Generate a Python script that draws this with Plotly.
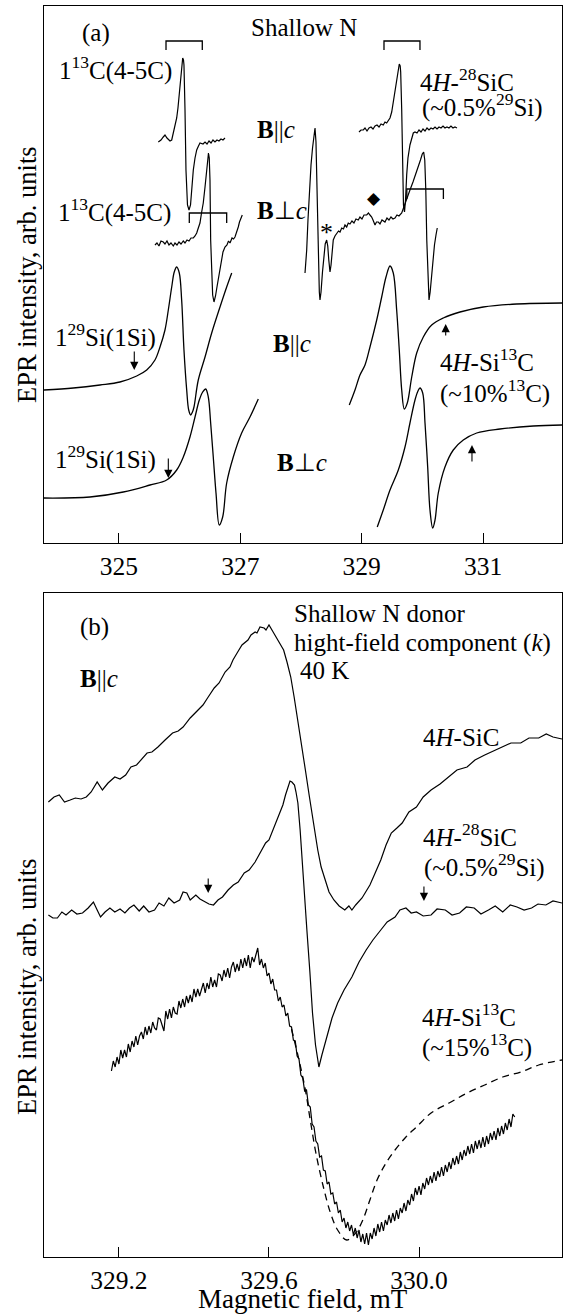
import plotly.graph_objects as go

W, H = 563, 1315
FONT = "Liberation Serif, Times New Roman, serif"

# ---------------- Panel (a): field in mT, EPR intensity in arb. units ----------------
# 4H-28SiC, B||c, low-field line with 13C(4-5C) satellites
a1_field = [325.648,325.692,325.730,325.758,325.791,325.813,325.841,325.869,325.895,325.923,
            325.951,325.972,325.994,326.011,326.027,326.050,326.063,326.071,326.088,326.104,
            326.129,326.154,326.179,326.203,326.225,326.253,326.281,326.310,326.335,326.385,
            326.418,326.451,326.484,326.517,326.549,326.582,326.615,326.648,326.681,326.714,326.747]
a1_int = [401,403,406,408,405,404,402,403,410,416,
          425,435,448,459,471,485,483,478,433,373,
          338,333,338,358,373,385,393,397,400,399,
          401,399,402,400,403,401,403,402,404,403,405]

# 4H-28SiC, B_|_c, low-field line
a2_field = [325.593,325.626,325.659,325.692,325.730,325.758,325.791,325.824,325.857,325.895,
            325.923,325.956,325.989,326.022,326.060,326.088,326.121,326.154,326.187,326.225,
            326.253,326.281,326.302,326.335,326.360,326.389,326.418,326.446,326.462,326.475,
            326.488,326.500,326.511,326.525,326.544,326.566,326.591,326.615,326.637,326.665,
            326.693,326.714,326.747,326.780,326.805,326.830,326.863,326.888,326.912,326.937,
            326.966,326.986,327.002,327.032]
a2_int = [298,300,297,302,301,299,302,298,300,297,
          300,298,301,299,302,300,303,302,305,305,
          307,310,314,320,330,340,356,375,385,390,
          385,363,303,273,248,241,247,256,263,273,
          283,291,296,298,302,300,305,304,306,310,
          316,321,324,328]

# 4H-28SiC, B||c, high-field line
a3_field = [328.956,328.989,329.027,329.055,329.088,329.121,329.154,329.187,329.220,329.253,
            329.286,329.319,329.356,329.384,329.412,329.434,329.467,329.495,329.521,329.549,
            329.577,329.599,329.620,329.635,329.643,329.660,329.676,329.689,329.706,329.723,
            329.742,329.763,329.796,329.825,329.851,329.879,329.912,329.945,329.978,330.011,
            330.044,330.077,330.110,330.143,330.176,330.209,330.242,330.275,330.308,330.341,
            330.373,330.406,330.439,330.472,330.505,330.538,330.571]
a3_int = [411,413,413,415,412,415,416,414,417,418,
          416,419,418,421,420,422,425,431,441,451,
          461,471,479,477,471,433,373,338,331,343,
          368,385,398,405,410,411,410,413,411,414,
          412,415,413,415,414,416,414,416,415,417,
          415,416,415,417,415,416,415]

# 4H-28SiC, B_|_c, high-field lines
a4_field = [328.066,328.094,328.115,328.140,328.165,328.190,328.211,328.231,328.247,328.259,
            328.272,328.288,328.302,328.313,328.330,328.354,328.379,328.399,328.423,328.441,
            328.458,328.478,328.495,328.511,328.532,328.560,328.588,328.618,328.643,328.671,
            328.700,328.725,328.753,328.779,328.807,328.840,328.873,328.906,328.944,328.972,
            329.005,329.038,329.083,329.112,329.137,329.165,329.187,329.220,329.244,329.274,
            329.302,329.335,329.384,329.417,329.450,329.483,329.516,329.549,329.582,329.615,
            329.660,329.698,329.747,329.796,329.846,329.895,329.936,329.969,329.999,330.022,
            330.040,330.057,330.073,330.090,330.110,330.129,330.151,330.176,330.200,330.225,330.246]
a4_int = [270,293,323,353,378,395,409,415,401,363,
          313,273,251,243,251,271,288,299,303,297,
          283,271,278,293,303,307,310,312,311,315,
          314,318,316,320,319,322,320,324,323,326,
          324,328,328,330,328,326,323,318,321,321,
          319,323,321,325,323,326,324,325,328,327,
          330,337,345,353,361,369,377,383,389,391,
          383,353,303,263,243,251,268,285,298,308,315]

# 4H-Si13C, B||c, low-field line (1 29Si)
a5_field = [323.764,324.247,324.687,325.016,325.292,325.457,325.593,325.676,325.758,325.813,
            325.869,325.911,325.951,325.994,326.033,326.071,326.116,326.149,326.182,326.211,
            326.236,326.307,326.418,326.528,326.665,326.775,326.858]
a5_int = [153,155,158,161,167,173,183,196,213,233,
          256,271,276,270,243,193,153,133,128,131,
          136,163,186,210,236,256,270]

# 4H-Si13C, B_|_c, low-field line
a6_field = [323.764,324.522,325.071,325.511,325.786,325.951,326.060,326.170,326.253,326.324,
            326.380,326.429,326.472,326.511,326.554,326.599,326.653,326.709,326.775,326.884,
            327.022,327.159,327.296]
a6_int = [45,46,51,58,63,73,86,106,126,143,
          151,154,146,120,86,50,18,26,60,86,
          110,126,144]

# 4H-Si13C, B||c, high-field line
a7_field = [328.796,328.890,328.972,329.055,329.137,329.248,329.330,329.401,329.467,329.521,
            329.577,329.620,329.660,329.703,329.752,329.825,329.907,330.016,330.154,330.345,
            330.621,331.004,331.555,332.302]
a7_int = [138,153,168,178,196,223,246,266,277,270,
          233,193,153,134,140,166,190,206,218,225,
          231,236,239,240]

# 4H-Si13C, B_|_c, high-field line
a8_field = [329.257,329.356,329.467,329.604,329.714,329.796,329.879,329.928,329.961,330.006,
            330.044,330.088,330.126,330.171,330.209,330.263,330.373,330.510,330.675,330.896,
            331.280,331.829,332.302]
a8_int = [16,33,53,73,96,120,143,152,155,150,
          120,76,33,15,23,50,76,93,103,110,
          114,117,118]

# hyperfine brackets: (left field, right field, top level, tick end level)
a_brackets = [(325.775, 326.373, 502, 493), (329.368, 329.961, 502, 493),
              (326.159, 326.775, 330, 320), (329.744, 330.347, 354, 344)]
# arrows: (field, tail level, tip level)
a_arrows = [(325.252, 193, 173), (325.813, 86, 65), (330.385, 206, 219), (330.818, 80, 98)]

# ---------------- Panel (b) ----------------
b_sic_field = [329.012,329.027,329.041,329.055,329.070,329.084,329.099,329.113,329.126,329.142,
               329.156,329.171,329.189,329.203,329.218,329.232,329.247,329.262,329.275,329.288,
               329.304,329.323,329.343,329.358,329.371,329.390,329.410,329.424,329.438,329.454,
               329.467,329.483,329.496,329.504,329.515,329.528,329.544,329.552,329.563,329.568,
               329.576,329.587,329.592,329.600,329.611,329.619,329.627,329.639,329.648,329.658,
               329.667,329.677,329.687,329.697,329.707,329.716,329.730,329.739,329.749,329.760,
               329.773,329.787,329.802,329.813,329.821,329.831,329.848,329.869,329.883,329.898,
               329.912,329.926,329.941,329.955,329.973,329.993,330.011,330.032,330.056,330.080,
               330.101,330.128,330.149,330.175,330.197,330.223,330.245,330.271,330.293,330.319,
               330.339,330.357,330.381]
b_sic_int = [455,460,462,455,457,459,458,460,465,475,
             467,474,480,478,482,490,492,499,504,505,
             510,517,524,526,530,539,547,552,560,569,
             574,585,590,597,604,612,617,622,625,624,
             630,629,627,632,625,620,615,607,595,580,
             560,537,512,487,462,440,407,390,377,365,
             357,351,347,351,347,352,359,372,384,397,
             412,424,429,434,445,450,460,467,473,480,
             487,490,497,502,506,510,514,514,519,519,
             523,520,518]

b_28sic_field = [329.012,329.024,329.036,329.048,329.059,329.074,329.088,329.103,329.118,329.132,
                 329.142,329.151,329.163,329.176,329.189,329.203,329.216,329.228,329.240,329.254,
                 329.266,329.280,329.295,329.307,329.320,329.333,329.347,329.362,329.371,329.381,
                 329.390,329.405,329.416,329.429,329.440,329.452,329.464,329.476,329.491,329.505,
                 329.518,329.534,329.547,329.563,329.576,329.591,329.600,329.611,329.620,329.629,
                 329.637,329.644,329.651,329.656,329.661,329.668,329.672,329.677,329.683,329.687,
                 329.694,329.701,329.709,329.716,329.724,329.733,329.741,329.754,329.768,329.783,
                 329.800,329.821,329.840,329.859,329.877,329.898,329.915,329.936,329.949,329.965,
                 329.979,329.993,330.011,330.032,330.048,330.070,330.088,330.108,330.126,330.147,
                 330.165,330.185,330.203,330.223,330.243,330.261,330.280,330.300,330.317,330.338,
                 330.357,330.381]
b_28sic_int = [342,339,339,345,342,347,343,344,349,355,
               347,340,345,349,345,348,344,349,352,346,
               351,345,347,354,351,359,354,357,365,364,
               357,362,358,355,353,352,357,360,367,372,
               375,384,387,395,404,414,417,427,435,444,
               452,462,471,476,475,472,465,454,427,407,
               367,327,285,244,212,190,202,220,239,254,
               267,280,295,307,317,327,335,340,347,349,
               344,345,341,342,348,347,342,344,350,349,
               343,347,351,345,352,350,347,349,353,352,
               356,354]

b_si13c_field = [329.180,329.185,329.190,329.195,329.200,329.205,329.210,329.215,329.220,329.225,
                 329.230,329.235,329.240,329.245,329.250,329.255,329.260,329.265,329.270,329.275,
                 329.280,329.285,329.290,329.295,329.300,329.305,329.310,329.315,329.320,329.325,
                 329.330,329.335,329.340,329.345,329.350,329.355,329.360,329.365,329.370,329.375,
                 329.380,329.385,329.390,329.395,329.400,329.405,329.410,329.415,329.420,329.425,
                 329.430,329.435,329.440,329.445,329.450,329.455,329.460,329.465,329.470,329.475,
                 329.480,329.485,329.490,329.495,329.500,329.505,329.510,329.515,329.520,329.525,
                 329.530,329.535,329.540,329.545,329.550,329.555,329.560,329.565,329.570,329.575,
                 329.580,329.585,329.590,329.595,329.600,329.605,329.610,329.615,329.620,329.625,
                 329.630,329.635,329.640,329.645,329.650,329.655,329.660,329.665,329.670,329.675,
                 329.680,329.685,329.690,329.695,329.700,329.705,329.710,329.715,329.720,329.725,
                 329.730,329.735,329.740,329.745,329.750,329.755,329.760,329.765,329.770,329.775,
                 329.780,329.785,329.790,329.795,329.800,329.805,329.810,329.815,329.820,329.825,
                 329.830,329.835,329.840,329.845,329.850,329.855,329.860,329.865,329.870,329.875,
                 329.880,329.885,329.890,329.895,329.900,329.905,329.910,329.915,329.920,329.925,
                 329.930,329.935,329.940,329.945,329.950,329.955,329.960,329.965,329.970,329.975,
                 329.980,329.985,329.990,329.995,330.000,330.005,330.010,330.015,330.020,330.025,
                 330.030,330.035,330.040,330.045,330.050,330.055,330.060,330.065,330.070,330.075,
                 330.080,330.085,330.090,330.095,330.100,330.105,330.110,330.115,330.120,330.125,
                 330.130,330.135,330.140,330.145,330.150,330.155,330.160,330.165,330.170,330.175,
                 330.180,330.185,330.190,330.195,330.200,330.205,330.210,330.215,330.220,330.225,
                 330.230,330.235,330.240,330.245,330.250,330.255]
b_si13c_int = [186,196,190,200,193,207,199,207,200,213,
               205,216,210,221,212,221,225,218,230,222,
               231,224,235,229,227,239,238,231,226,246,
               238,248,239,250,244,243,256,249,258,250,
               261,254,262,255,268,260,268,261,269,274,
               264,274,268,280,270,277,270,283,282,276,
               287,280,289,279,290,295,285,293,286,298,
               289,299,291,302,289,300,295,303,309,292,
               298,289,294,281,284,273,278,267,267,256,
               260,250,252,241,244,231,230,217,216,201,
               198,182,179,166,167,152,150,133,130,116,
               113,100,101,87,86,73,75,63,64,53,
               55,44,47,35,39,29,35,26,32,22,
               29,19,27,15,23,13,24,12,24,18,
               29,21,33,25,35,26,37,32,42,34,
               44,36,47,38,49,44,54,46,57,52,
               63,56,69,62,71,62,74,68,79,72,
               81,74,85,76,86,80,90,81,92,85,
               95,88,99,92,101,93,105,97,107,101,
               111,103,113,104,116,108,117,109,120,110,
               121,113,124,117,126,117,129,121,131,123,
               134,127,138,130,143,140]

b_dash_field = [329.660,329.680,329.697,329.710,329.725,329.745,329.764,329.783,329.807,329.831,
                329.850,329.869,329.888,329.912,329.936,329.965,329.993,330.032,330.080,330.128,
                330.175,330.223,330.271,330.319,330.381]
b_dash_int = [228,197,167,137,104,70,44,27,17,24,
              37,57,77,94,107,120,130,144,154,164,
              172,180,185,192,197]

b_arrows = [(329.438, 380, 364), (330.013, 372, 356)]

a_ticks = [325, 327, 329, 331]
b_ticks = [329.2, 329.6, 330.0]
b_ticklabels = ["329.2", "329.6", "330.0"]

# ---------------- figure ----------------
fig = go.Figure()

def add_line(x, y, xa, ya, dash=None, width=1.3, shape="linear"):
    fig.add_trace(go.Scatter(x=x, y=y, xaxis=xa, yaxis=ya, mode="lines",
                             line=dict(color="black", width=width, dash=dash, shape=shape),
                             hoverinfo="skip", showlegend=False))

for fx, iy in [(a1_field, a1_int), (a2_field, a2_int), (a3_field, a3_int), (a4_field, a4_int)]:
    add_line(fx, iy, "x", "y", width=1.2)
for fx, iy in [(a5_field, a5_int), (a6_field, a6_int), (a7_field, a7_int), (a8_field, a8_int)]:
    add_line(fx, iy, "x", "y", width=1.3, shape="spline")

add_line(b_sic_field, b_sic_int, "x2", "y2", width=1.2)
add_line(b_28sic_field, b_28sic_int, "x2", "y2", width=1.2)
add_line(b_dash_field, b_dash_int, "x2", "y2", dash="7px,5px", width=1.3, shape="spline")
add_line(b_si13c_field, b_si13c_int, "x2", "y2", width=1.2)

shapes = []
for l, r, top, tick in a_brackets:
    shapes.append(dict(type="path", xref="x", yref="y",
                       path=f"M {l},{tick} L {l},{top} L {r},{top} L {r},{tick}",
                       line=dict(color="black", width=1.3)))

annotations = []
def arrow(f, tail, tip, xr, yr):
    annotations.append(dict(x=f, y=tip, ax=f, ay=tail, xref=xr, yref=yr, axref=xr, ayref=yr,
                            text="", showarrow=True, arrowhead=2, arrowsize=1.5, arrowwidth=1.1,
                            arrowcolor="black", standoff=0))
for f, tail, tip in a_arrows:
    arrow(f, tail, tip, "x", "y")
for f, tail, tip in b_arrows:
    arrow(f, tail, tip, "x2", "y2")

def label(text, xp, yp, anchor="left", size=25, family=FONT, angle=0):
    annotations.append(dict(text=text, x=xp / W, y=1 - yp / H, xref="paper", yref="paper",
                            xanchor=anchor, yanchor="middle", showarrow=False, textangle=angle,
                            font=dict(family=family, size=size, color="black")))

label("(a)", 96, 33, "center")
label("Shallow N", 249, 28)
label("1<sup>13</sup>C(4-5C)", 57, 68)
label("4<i>H</i>-<sup>28</sup>SiC", 418, 80)
label("(~0.5%<sup>29</sup>Si)", 420, 105)
label("<b>B</b>||<i>c</i>", 255, 130)
label("1<sup>13</sup>C(4-5C)", 56, 210)
label("<b>B</b>⊥<i>c</i>", 255, 210)
label("*", 326.7, 233, "center", size=26)
label("◆", 374.3, 198, "center", size=17, family="DejaVu Sans")
label("1<sup>29</sup>Si(1Si)", 53, 335)
label("<b>B</b>||<i>c</i>", 271, 343)
label("4<i>H</i>-Si<sup>13</sup>C", 438, 360)
label("(~10%<sup>13</sup>C)", 438, 392)
label("1<sup>29</sup>Si(1Si)", 53, 457)
label("<b>B</b>⊥<i>c</i>", 275, 462)

label("(b)", 94, 627, "center")
label("<b>B</b>||<i>c</i>", 78, 678)
label("Shallow N donor", 292, 613)
label("hight-field component (<i>k</i>)", 292, 643)
label("40 K", 298, 670)
label("4<i>H</i>-SiC", 421, 737)
label("4<i>H</i>-<sup>28</sup>SiC", 421, 835)
label("(~0.5%<sup>29</sup>Si)", 422, 865)
label("4<i>H</i>-Si<sup>13</sup>C", 420, 1015)
label("(~15%<sup>13</sup>C)", 420, 1045)

label("EPR intensity, arb. units", 27, 275, "center", size=26.5, angle=-90)
label("EPR intensity, arb. units", 27, 987, "center", size=26.5, angle=-90)
label("Magnetic field, mT", 303, 1299, "center", size=27)

axis_common = dict(showline=True, linecolor="black", linewidth=1.3, mirror=True,
                   showgrid=False, zeroline=False)
fig.update_layout(
    width=W, height=H, margin=dict(l=0, r=0, t=0, b=0),
    paper_bgcolor="white", plot_bgcolor="white", showlegend=False,
    font=dict(family=FONT, size=25, color="black"),
    xaxis=dict(domain=[44 / W, 562 / W], anchor="y", range=[323.764, 332.302],
               tickvals=a_ticks, ticktext=[str(t) for t in a_ticks],
               ticks="inside", ticklen=10, tickwidth=1.3, tickcolor="black",
               tickfont=dict(family=FONT, size=25.5), **axis_common),
    yaxis=dict(domain=[1 - 543 / H, 1 - 6 / H], anchor="x", range=[0, 537],
               showticklabels=False, ticks="", **axis_common),
    xaxis2=dict(domain=[44 / W, 562 / W], anchor="y2", range=[329.0003, 330.381],
                tickvals=b_ticks, ticktext=b_ticklabels,
                ticks="inside", ticklen=10, tickwidth=1.3, tickcolor="black",
                tickfont=dict(family=FONT, size=25.5), **axis_common),
    yaxis2=dict(domain=[1 - 1257 / H, 1 - 593 / H], anchor="x2", range=[0, 664],
                showticklabels=False, ticks="", **axis_common),
    shapes=shapes, annotations=annotations,
)

fig.write_html("out.html")
